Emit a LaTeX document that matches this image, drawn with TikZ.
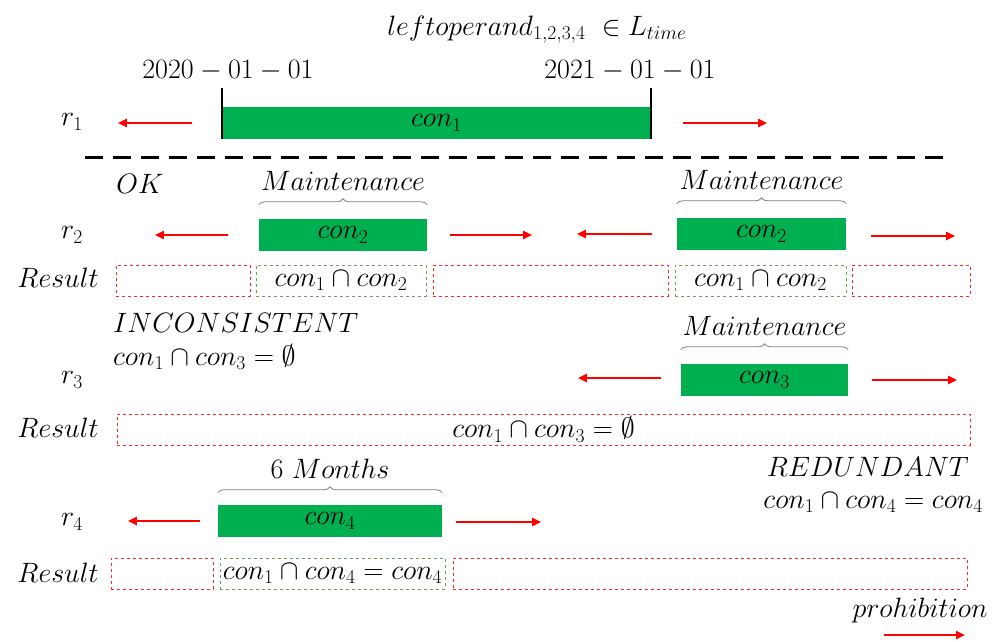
\RequirePackage{fix-cm}
\documentclass[tikz,border=0pt]{standalone}
\usepackage{amsmath, amssymb}
\usepackage{tikz}
\usetikzlibrary{arrows.meta, positioning, calc, decorations.pathreplacing}

\definecolor{bargreen}{RGB}{0,176,80}
\definecolor{resgreen}{RGB}{112,160,80}

\begin{document}
\begin{tikzpicture}[x=1pt,y=-1pt,
            every node/.style={font=\fontsize{28}{33}\selectfont},
            bar/.style={fill=bargreen,inner sep=0pt,minimum height=32pt},
            prohib/.style={red,line width=2.5pt,-{Triangle[length=9pt,width=8pt]}},
            okbox/.style={draw=resgreen,dashed,line width=0.8pt,inner sep=0pt,minimum height=31pt},
            nobox/.style={draw=red!85,dashed,line width=0.8pt,inner sep=0pt,minimum height=31pt},
            span/.style={gray,line width=0.8pt,decorate,decoration={brace,amplitude=6pt}},
            spanlabel/.style={text=black,above=11pt}]
            \useasboundingbox (0,0) rectangle (1006,641);

            % Title and the reference interval
            \node (title) at (537,30) {$leftoperand_{1,2,3,4}\ \in L_{time}$};
            \node (start) at (228,71) {$2020-01-01$};
            \node (stop) at (630,71) {$2021-01-01$};

            \node (r1) at (72,122) {$r_1$};
            \node[bar,minimum width=429pt] (con1) at (436.5,123) {$con_1$};
            \draw[line width=2.5pt] (con1.south west) -- ++(0,-51);
            \draw[line width=2.5pt] (con1.south east) -- ++(0,-51);
            \draw[prohib] ([xshift=-30pt]con1.west) -- ++(-74,0);
            \draw[prohib] ([xshift=32pt]con1.east) -- ++(84,0);

            \draw[line width=3pt,dash pattern=on 18pt off 10pt] (85,157) -- (948,157);

            % r2: OK
            \node (ok) at (140,184) {$OK$};
            \node (r2) at (72,235) {$r_2$};
            \node[bar,minimum width=168pt] (con2a) at (343,235) {$con_2$};
            \node[bar,minimum width=169pt] (con2b) at (761.5,234) {$con_2$};
            \draw[span] ([yshift=14pt]con2a.north west) -- ([yshift=14pt]con2a.north east)
                node[midway,spanlabel] {$Maintenance$};
            \draw[span] ([yshift=14pt]con2b.north west) -- ([yshift=14pt]con2b.north east)
                node[midway,spanlabel] {$Maintenance$};
            \draw[prohib] ([xshift=-31pt]con2a.west) -- ++(-73,0);
            \draw[prohib] ([xshift=23pt]con2a.east) -- ++(82,0);
            \draw[prohib] ([xshift=-25pt]con2b.west) -- ++(-75,0);
            \draw[prohib] ([xshift=25pt,yshift=-2pt]con2b.east) -- ++(84,0);

            \node (res2) at (58,278) {$Result$};
            \node[nobox,minimum width=134pt] (res2a) at (183,280.5) {};
            \node[okbox,minimum width=170pt] (res2b) at (341,280.5) {$con_1\cap con_2$};
            \node[nobox,minimum width=235pt] (res2c) at (550.5,280.5) {};
            \node[okbox,minimum width=171pt] (res2d) at (760.5,280.5) {$con_1\cap con_2$};
            \node[nobox,minimum width=118pt] (res2e) at (911,280.5) {};

            % r3: INCONSISTENT
            \node[anchor=west,inner sep=1pt] (incon) at (112,323) {$INCONSISTENT$};
            \node[anchor=west,inner sep=1pt] (incontxt) at (112,357) {$con_1\cap con_3=\emptyset$};
            \node (r3) at (72,380) {$r_3$};
            \node[bar,minimum width=167pt] (con3) at (764.5,380) {$con_3$};
            \draw[span] ([yshift=14pt]con3.north west) -- ([yshift=14pt]con3.north east)
                node[midway,spanlabel] {$Maintenance$};
            \draw[prohib] ([xshift=-20pt,yshift=2pt]con3.west) -- ++(-83,0);
            \draw[prohib] ([xshift=24pt]con3.east) -- ++(85,0);

            \node (res3) at (58,428) {$Result$};
            \node[nobox,minimum width=853pt] (res3a) at (543.5,429.5) {$con_1\cap con_3=\emptyset$};

            % r4: REDUNDANT
            \node[anchor=east,inner sep=1pt] (redun) at (970,467) {$REDUNDANT$};
            \node[anchor=east,inner sep=1pt] (reduntxt) at (984,503) {$con_1\cap con_4=con_4$};
            \node (r4) at (72,522) {$r_4$};
            \node[bar,minimum width=224pt] (con4) at (330,521) {$con_4$};
            \draw[span] ([yshift=12pt]con4.north west) -- ([yshift=12pt]con4.north east)
                node[midway,spanlabel] {$6\ Months$};
            \draw[prohib] ([xshift=-18pt]con4.west) -- ++(-72,0);
            \draw[prohib] ([xshift=14pt,yshift=-1pt]con4.east) -- ++(85,0);

            \node (res4) at (58,573) {$Result$};
            \node[nobox,minimum width=102pt] (res4a) at (162,573.5) {};
            \node[okbox,minimum width=225pt] (res4b) at (332.5,573.5) {$con_1\cap con_4=con_4$};
            \node[nobox,minimum width=514pt] (res4c) at (710,573.5) {};

            % legend
            \node (legend) at (920,610) {$prohibition$};
            \coordinate (legfrom) at (884,635);
            \draw[prohib] (legfrom) -- ++(81,0);
\end{tikzpicture}
\end{document}
